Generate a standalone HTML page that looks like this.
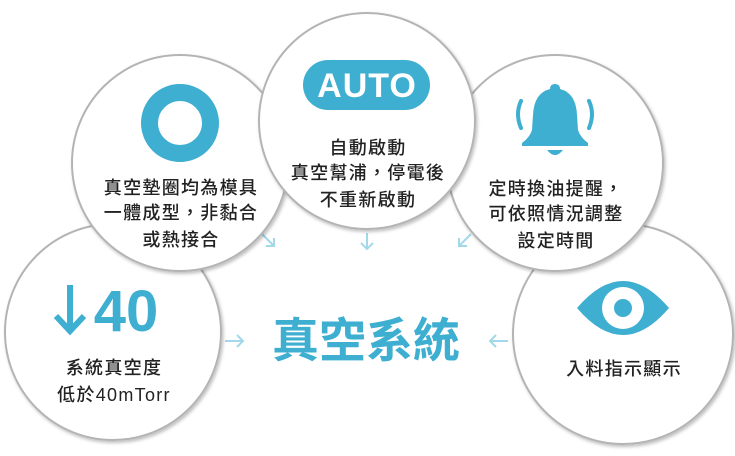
<!DOCTYPE html>
<html><head><meta charset="utf-8"><style>
html,body{margin:0;padding:0;background:#fff;width:735px;height:456px;overflow:hidden}
svg{display:block}
.t{font-family:"Liberation Sans","Noto Sans CJK TC",sans-serif;font-size:18px;fill:#222;text-anchor:middle;letter-spacing:1.3px;font-weight:500}
.ar{stroke:#a3d8ea;stroke-width:2;fill:none}
</style></head><body>
<svg width="735" height="456" viewBox="0 0 735 456">
<defs>
<filter id="sh" x="-10%" y="-10%" width="125%" height="125%"><feDropShadow dx="1.5" dy="2" stdDeviation="1.5" flood-color="#000" flood-opacity="0.25"/></filter>
</defs>
<g class="ar">
<path d="M262 234 L274 246 M274 238 L274 246 L266 246"/>
<path d="M367 233 L367 249 M361 243 L367 249 L373 243"/>
<path d="M471 234 L459 246 M459 238 L459 246 L467 246"/>
<path d="M225 341 L243 341 M237 335 L243 341 L237 347"/>
<path d="M508 341 L490 341 M496 335 L490 341 L496 347"/>
</g>
<text x="366" y="357" font-family="Liberation Sans,'Noto Sans CJK TC',sans-serif" font-size="47" font-weight="bold" fill="#3eaed1" text-anchor="middle">真空系統</text>

<!-- C4 -->
<circle cx="113" cy="332" r="108" fill="#fff" stroke="#b4b4b4" stroke-width="2" filter="url(#sh)"/>
<path d="M70 285 L70 330 M56 316 L70 331 L84 316" stroke="#3eaed1" stroke-width="6" fill="none"/>
<text x="126" y="331" font-family="Liberation Sans,sans-serif" font-size="58" font-weight="bold" fill="#3eaed1" text-anchor="middle">40</text>
<text class="t" x="114" y="374">系統真空度</text>
<text class="t" x="114" y="401" letter-spacing="0.5">低於40mTorr</text>

<!-- C5 -->
<circle cx="623" cy="334" r="110" fill="#fff" stroke="#b4b4b4" stroke-width="2" filter="url(#sh)"/>
<path d="M577 308 Q623 254 669 308 Q623 362 577 308 Z" fill="#3eaed1"/>
<circle cx="623" cy="308" r="21" fill="#fff"/>
<circle cx="623" cy="308" r="9" fill="#3eaed1"/>
<text class="t" x="624" y="375">入料指示顯示</text>

<!-- C1 -->
<circle cx="180" cy="163" r="108" fill="#fff" stroke="#b4b4b4" stroke-width="2" filter="url(#sh)"/>
<circle cx="180" cy="123" r="30.5" fill="none" stroke="#3eaed1" stroke-width="17"/>
<text class="t" x="181" y="194">真空墊圈均為模具</text>
<text class="t" x="181" y="219">一體成型，非黏合</text>
<text class="t" x="181" y="246">或熱接合</text>

<!-- C3 -->
<circle cx="555" cy="163" r="108" fill="#fff" stroke="#b4b4b4" stroke-width="2" filter="url(#sh)"/>
<path d="M555 84 Q560 84 560 89 Q576 93 577 115 L578 130 Q580 137 588 143 L588 146 L522 146 L522 143 Q530 137 532 130 L533 115 Q534 93 550 89 Q550 84 555 84 Z" fill="#3eaed1"/>
<path d="M547 150 Q555 160 563 150 Z" fill="#3eaed1"/>
<path d="M521 101 Q515 114 521 128" stroke="#3eaed1" stroke-width="4" fill="none" stroke-linecap="round"/>
<path d="M589 101 Q595 114 589 128" stroke="#3eaed1" stroke-width="4" fill="none" stroke-linecap="round"/>
<text class="t" x="556" y="195">定時換油提醒，</text>
<text class="t" x="556" y="220">可依照情況調整</text>
<text class="t" x="556" y="247">設定時間</text>

<!-- C2 -->
<circle cx="367" cy="121" r="108" fill="#fff" stroke="#b4b4b4" stroke-width="2" filter="url(#sh)"/>
<rect x="303" y="60" width="127" height="50" rx="25" fill="#3eaed1"/>
<text x="367" y="97" font-family="Liberation Sans,sans-serif" font-size="34" font-weight="bold" fill="#fff" text-anchor="middle" letter-spacing="1">AUTO</text>
<text class="t" x="368" y="154">自動啟動</text>
<text class="t" x="368" y="179">真空幫浦，停電後</text>
<text class="t" x="368" y="206">不重新啟動</text>
</svg>
</body></html>
